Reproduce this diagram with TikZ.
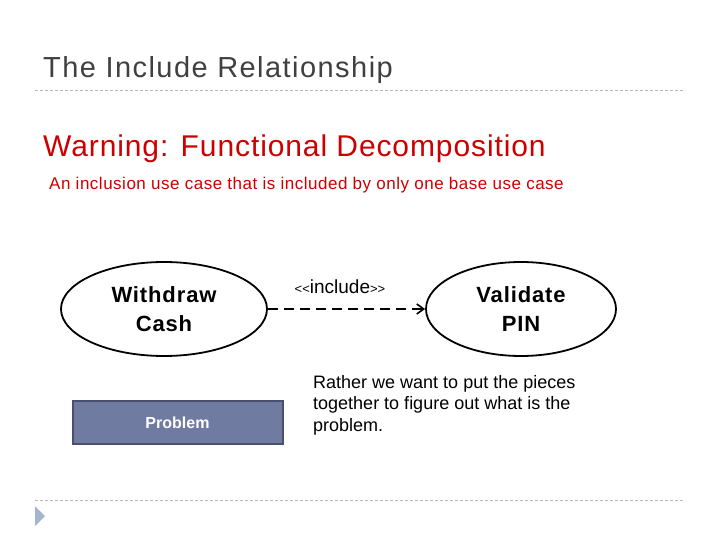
\documentclass[tikz,border=0pt]{standalone}
\usepackage{fontspec}
\setmainfont{Liberation Sans}
\usetikzlibrary{arrows.meta,shapes.geometric}
\definecolor{titlegray}{HTML}{404040}
\definecolor{warnred}{HTML}{CC0000}
\definecolor{rulegray}{HTML}{B8B8B8}
\definecolor{probfill}{HTML}{6F7BA0}
\definecolor{probdraw}{HTML}{4A5070}
\definecolor{bullet}{HTML}{A5B5CC}
\newcommand{\spc}[1]{\addfontfeature{LetterSpace=#1}}
\tikzset{
  rule/.style={draw=rulegray, line width=0.8pt, dash pattern=on 3pt off 2pt},
  usecase/.style={draw=black, line width=1.8pt, ellipse, minimum width=206pt, minimum height=94pt, align=center, font=\fontsize{22}{29}\selectfont\bfseries\spc{4}, inner sep=0pt},
  inc/.style={draw=black, line width=2.2pt, dash pattern=on 10pt off 6pt, -{Straight Barb[length=7pt,width=10pt,line width=1.6pt]}},
}
\begin{document}
\begin{tikzpicture}[x=1pt,y=-1pt]
\useasboundingbox (0,0) rectangle (720,540);
\fill[white] (0,0) rectangle (720,540);
\node[anchor=base west, inner sep=0pt, text=titlegray, font=\fontsize{29}{32}\selectfont\spc{5}] (title) at (43,78) {The Include Relationship};
\draw[rule] (35,90) coordinate (r1a) -- (685,90) coordinate (r1b);
\node[anchor=base west, inner sep=0pt, text=warnred, font=\fontsize{30}{34}\selectfont\spc{3}] (warn) at (43,157) {Warning: Functional Decomposition};
\node[anchor=base west, inner sep=0pt, text=warnred, font=\fontsize{17}{20}\selectfont\spc{3}] (sub) at (49,190) {An inclusion use case that is included by only one base use case};
\node[usecase] (wc) at (164,309) {Withdraw\\Cash};
\node[usecase, minimum width=190pt] (vp) at (521,309) {Validate\\PIN};
\draw[inc] (wc.east) -- (vp.west);
\node[inner sep=0pt, font=\fontsize{19}{20}\selectfont] (lbl) at (340,287) {{\fontsize{13}{13}\selectfont{<}{<}}include{\fontsize{13}{13}\selectfont{>}{>}}};
\node[draw=probdraw, line width=2pt, fill=probfill, text=white, minimum width=210pt, minimum height=43pt, font=\fontsize{16}{20}\selectfont\bfseries] (prob) at (177.5,422.5) {Problem};
\node[anchor=base west, inner sep=0pt, align=left, font=\fontsize{18}{21.5}\selectfont] (note) at (313,431) {Rather we want to put the pieces\\together to figure out what is the\\problem.};
\draw[rule] (35,500) coordinate (r2a) -- (685,500) coordinate (r2b);
\fill[bullet] (35,506) coordinate (t1) -- (45,516) -- (35,526) -- cycle;
\end{tikzpicture}
\end{document}
